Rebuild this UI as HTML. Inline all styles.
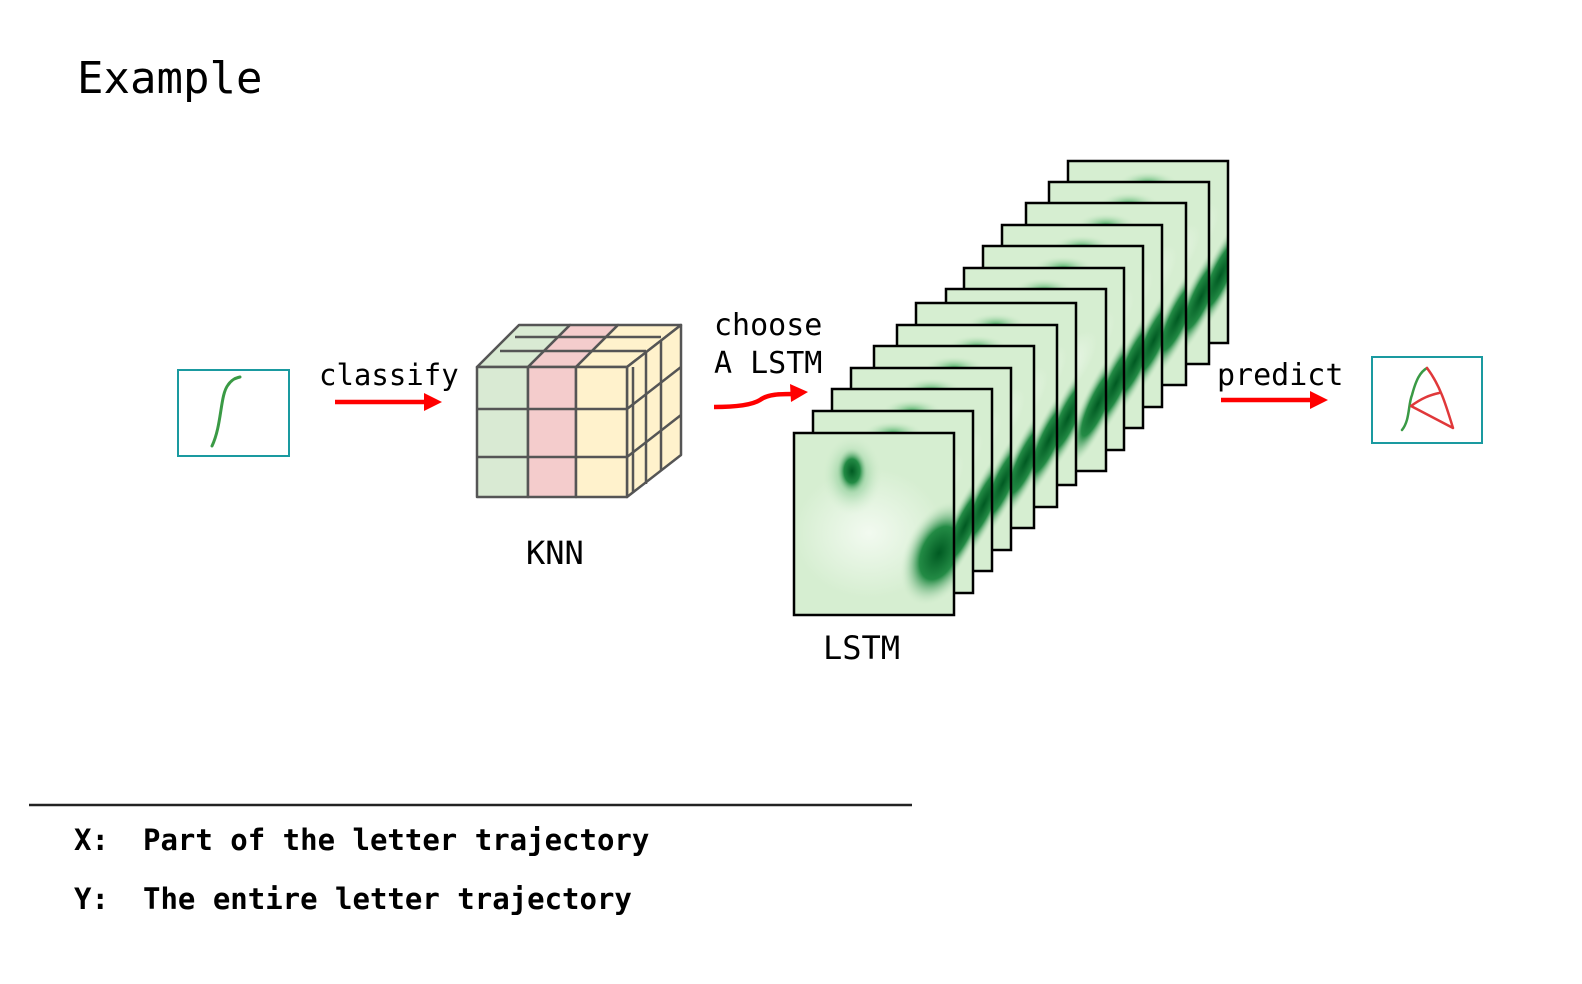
<!DOCTYPE html>
<html><head><meta charset="utf-8"><style>
body{margin:0;background:#fff;}
svg{display:block}
text{font-family:"DejaVu Sans Mono","Liberation Mono",monospace;}
</style></head><body>
<svg width="1582" height="984" viewBox="0 0 1582 984" xmlns="http://www.w3.org/2000/svg">
<defs>
<clipPath id="cp"><rect x="0" y="0" width="160" height="182"/></clipPath>
<radialGradient id="dk" cx="50%" cy="50%" r="50%">
<stop offset="0" stop-color="#005a22"/><stop offset="0.5" stop-color="#238b45"/><stop offset="1" stop-color="#d4edcf" stop-opacity="0"/>
</radialGradient>
<radialGradient id="md" cx="50%" cy="50%" r="50%">
<stop offset="0" stop-color="#41ab5d"/><stop offset="1" stop-color="#d4edcf" stop-opacity="0"/>
</radialGradient>
<radialGradient id="wh" cx="50%" cy="50%" r="50%">
<stop offset="0" stop-color="#f2faf0"/><stop offset="1" stop-color="#f2faf0" stop-opacity="0"/>
</radialGradient>
<g id="fr">
<g clip-path="url(#cp)">
<rect x="0" y="0" width="160" height="182" fill="#d6eed1"/>
<ellipse cx="110" cy="90" rx="60" ry="20" fill="url(#wh)" transform="rotate(-50 110 90)"/>
<ellipse cx="80" cy="22" rx="30" ry="12" fill="url(#md)"/>
<ellipse cx="152" cy="115" rx="16" ry="70" fill="url(#dk)" transform="rotate(25 152 115)"/>
</g>
<rect x="0" y="0" width="160" height="182" fill="none" stroke="#000" stroke-width="2.5"/>
</g>
</defs>
<text x="77" y="93" font-size="44">Example</text>

<rect x="178" y="370" width="111" height="86" fill="#fff" stroke="#1a9aa0" stroke-width="2"/>
<path d="M212,446 C222,425 220,395 228,385 C232,379 236,378 240,377" fill="none" stroke="#3a9a45" stroke-width="3" stroke-linecap="round"/>

<text x="319" y="385" font-size="29">classify</text>
<line x1="335" y1="402" x2="425" y2="402" stroke="#f00" stroke-width="4.5"/>
<polygon points="424,393 442,402 424,411" fill="#f00"/>

<g stroke="#555" stroke-width="2.5" stroke-linejoin="round">
<polygon points="477,367 519,325 570,325 528,367" fill="#d9ead3"/>
<polygon points="528,367 570,325 618,325 576,367" fill="#f4cccc"/>
<polygon points="576,367 618,325 681,325 627,367" fill="#fff2cc"/>
<polygon points="627,367 681,325 681,455 627,497" fill="#fff2cc"/>
<rect x="477" y="367" width="51" height="130" fill="#d9ead3"/>
<rect x="528" y="367" width="48" height="130" fill="#f4cccc"/>
<rect x="576" y="367" width="51" height="130" fill="#fff2cc"/>
<line x1="477" y1="409" x2="627" y2="409"/>
<line x1="477" y1="457" x2="627" y2="457"/>
<line x1="515" y1="337" x2="661" y2="337"/>
<line x1="500" y1="351" x2="646" y2="351"/>
<line x1="646" y1="353" x2="646" y2="484"/>
<line x1="661" y1="341" x2="661" y2="470"/>
<line x1="627" y1="409" x2="681" y2="367"/>
<line x1="627" y1="457" x2="681" y2="415"/>
<line x1="633" y1="367" x2="633" y2="493"/>
</g>
<text x="526" y="564" font-size="32">KNN</text>

<text x="714" y="335" font-size="30">choose</text>
<text x="714" y="373" font-size="30">A LSTM</text>
<path d="M714,407 C735,407 752,405 760,400 C768,394 780,394 795,394" fill="none" stroke="#f00" stroke-width="4.5"/>
<polygon points="790,384 808,392 791,402" fill="#f00"/>

<use href="#fr" x="1068" y="161"/>
<use href="#fr" x="1049" y="182"/>
<use href="#fr" x="1026" y="203"/>
<use href="#fr" x="1002" y="225"/>
<use href="#fr" x="983" y="246"/>
<use href="#fr" x="964" y="268"/>
<use href="#fr" x="946" y="289"/>
<use href="#fr" x="916" y="303"/>
<use href="#fr" x="897" y="325"/>
<use href="#fr" x="874" y="346"/>
<use href="#fr" x="851" y="368"/>
<use href="#fr" x="832" y="389"/>
<use href="#fr" x="813" y="411"/>
<g transform="translate(794,433)">
<g clip-path="url(#cp)">
<rect x="0" y="0" width="160" height="182" fill="#d6eed1"/>
<ellipse cx="75" cy="100" rx="75" ry="65" fill="url(#wh)"/>
<ellipse cx="58" cy="42" rx="30" ry="40" fill="url(#md)"/>
<ellipse cx="58" cy="38" rx="16" ry="24" fill="url(#dk)"/>
<ellipse cx="145" cy="120" rx="34" ry="56" fill="url(#dk)" transform="rotate(25 145 120)"/>
</g>
<rect x="0" y="0" width="160" height="182" fill="none" stroke="#000" stroke-width="2.5"/>
</g>
<text x="823" y="659" font-size="32">LSTM</text>

<text x="1217" y="385" font-size="30">predict</text>
<line x1="1221" y1="400" x2="1312" y2="400" stroke="#f00" stroke-width="4.5"/>
<polygon points="1310,391 1328,400 1310,409" fill="#f00"/>

<rect x="1372" y="357" width="110" height="86" fill="#fff" stroke="#1a9aa0" stroke-width="2"/>
<path d="M1402,430 C1410,420 1408,405 1412,395 C1416,380 1420,372 1427,368" fill="none" stroke="#3a9a45" stroke-width="2.5" stroke-linecap="round"/>
<path d="M1427,368 C1440,385 1446,405 1453,428 L1411,406 C1422,398 1430,395 1439,393" fill="none" stroke="#e0383a" stroke-width="2.5" stroke-linecap="round" stroke-linejoin="round"/>

<line x1="29" y1="805" x2="912" y2="805" stroke="#222" stroke-width="2.5"/>
<text x="74" y="850" font-size="29" font-weight="bold">X:</text>
<text x="143" y="850" font-size="29" font-weight="bold">Part of the letter trajectory</text>
<text x="74" y="909" font-size="29" font-weight="bold">Y:</text>
<text x="143" y="909" font-size="29" font-weight="bold">The entire letter trajectory</text>
</svg>
</body></html>
